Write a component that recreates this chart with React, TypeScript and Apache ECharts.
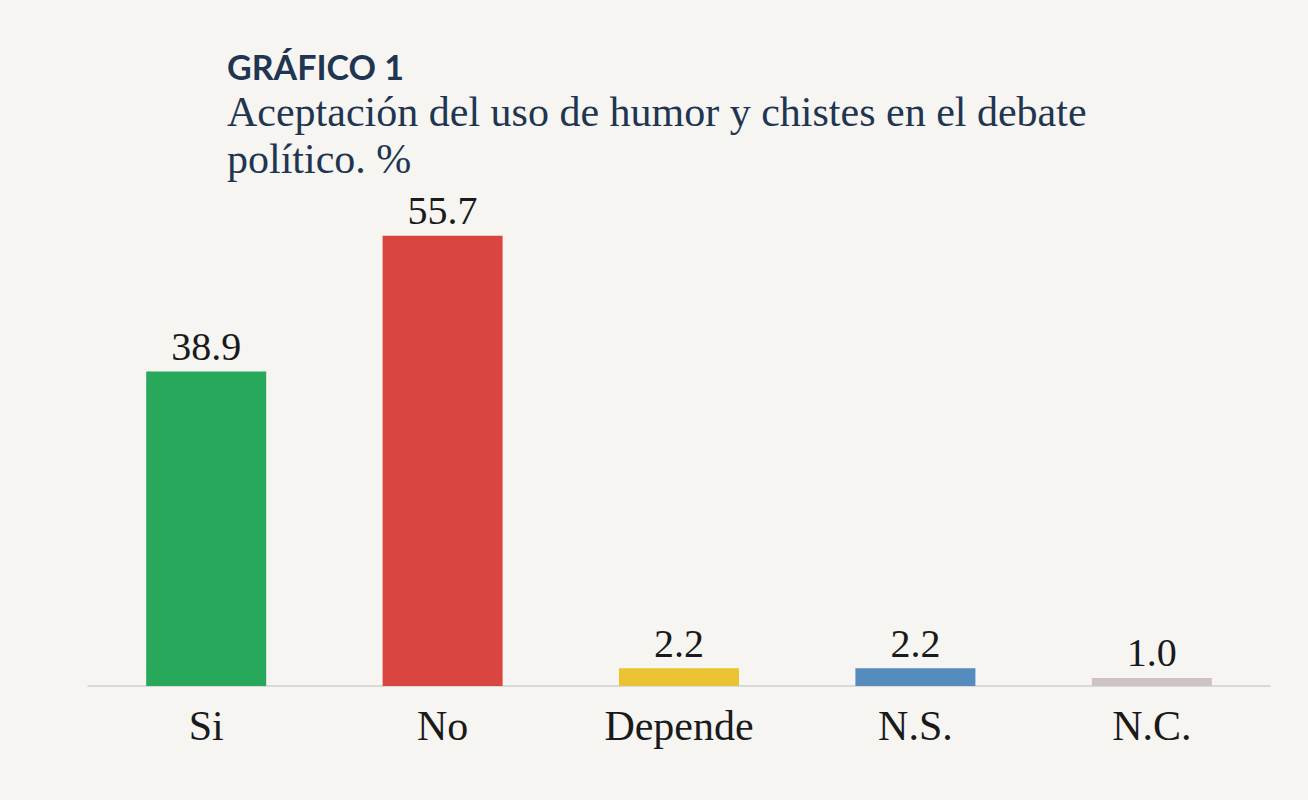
import React, { useEffect, useRef } from "react";
import * as echarts from "echarts";

const categories = ["Si", "No", "Depende", "N.S.", "N.C."];
const values = [38.9, 55.7, 2.2, 2.2, 1.0];
const colors = ["#27a85b", "#d9463f", "#ebc232", "#568bbe", "#cdc3c3"];
const titleText = "GRÁFICO 1";
const subtitleText = "Aceptación del uso de humor y chistes en el debate\npolítico. %";

export default function App() {
  const ref = useRef<HTMLDivElement>(null);
  useEffect(() => {
    document.body.style.margin = "0";
    const chart = echarts.init(ref.current!, undefined, { renderer: "svg" });
    chart.setOption({
      animation: false,
      backgroundColor: "#f6f5f1",
      title: {
        text: titleText,
        subtext: subtitleText,
        left: 222,
        top: 44,
        itemGap: 5,
        textStyle: {
          fontFamily: "Lato",
          fontWeight: "bold",
          fontSize: 34,
          color: "#1f3551",
        },
        subtextStyle: {
          fontFamily: "Liberation Serif",
          fontSize: 42,
          color: "#1f3551",
          lineHeight: 47,
        },
      },
      grid: { left: 88, right: 38, top: 201, bottom: 114 },
      xAxis: {
        type: "category",
        data: categories,
        axisTick: { show: false },
        axisLine: { lineStyle: { color: "#cfcfcf", width: 1.5 } },
        axisLabel: {
          fontFamily: "Liberation Serif",
          fontSize: 42,
          color: "#1a1a1a",
          margin: 19,
        },
      },
      yAxis: {
        type: "value",
        min: 0,
        max: 60,
        show: false,
        splitLine: { show: false },
      },
      series: [
        {
          type: "bar",
          barWidth: 120,
          data: values.map((v, i) => ({ value: v, itemStyle: { color: colors[i] } })),
          label: {
            show: true,
            position: "top",
            distance: 5,
            formatter: (p: any) => Number(p.value).toFixed(1),
            fontFamily: "Liberation Serif",
            fontSize: 40,
            color: "#1a1a1a",
          },
        },
      ],
    });
    return () => chart.dispose();
  }, []);
  return <div ref={ref} style={{ width: 1308, height: 800 }} />;
}
